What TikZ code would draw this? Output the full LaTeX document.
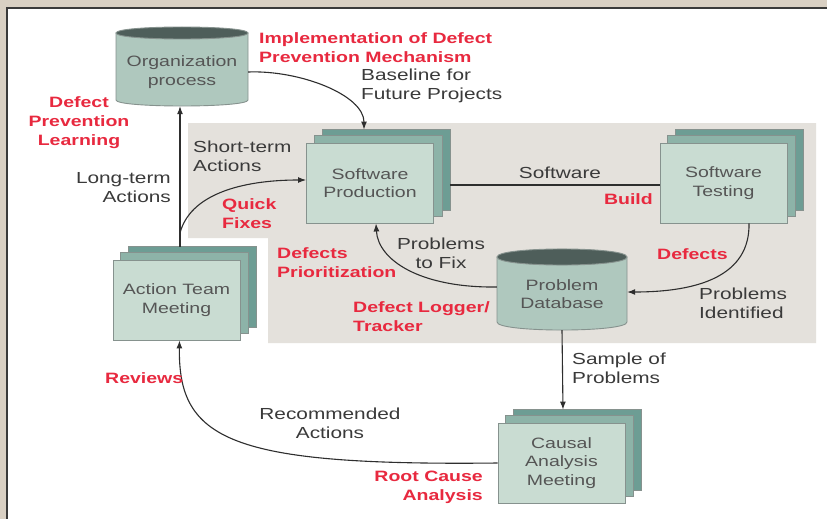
\documentclass[tikz,border=0pt]{standalone}
\usepackage{fontspec}
\setmainfont{Liberation Sans}[FakeStretch=1.3]
\usetikzlibrary{arrows.meta}

\pgfdeclarelayer{bg}
\pgfdeclarelayer{stack}
\pgfsetlayers{bg,stack,main}

\definecolor{paper}{HTML}{D9D0C3}
\definecolor{framecol}{HTML}{3A3A3A}
\definecolor{zone}{HTML}{E4E1DC}
\definecolor{boxfront}{HTML}{C9DCD2}
\definecolor{boxmid}{HTML}{8DB3A8}
\definecolor{boxback}{HTML}{6D9D94}
\definecolor{boxline}{HTML}{86928E}
\definecolor{cylbody}{HTML}{AFC8BE}
\definecolor{cyltop}{HTML}{4E5E5A}
\definecolor{boxtext}{HTML}{555555}
\definecolor{labeltext}{HTML}{3A3A3A}
\definecolor{hired}{HTML}{E8293F}
\definecolor{linecol}{HTML}{2E2E2E}

\newcommand\boxfont{\fontsize{15}{18.5}\selectfont}
\newcommand\lblfont{\fontsize{16}{19}\selectfont}
\newcommand\hifont{\fontsize{15}{19}\selectfont\bfseries}

\tikzset{
  stackbox/.style={draw=boxline, fill=boxfront, line width=0.9pt,
    minimum width=127pt, minimum height=80pt, inner sep=0pt,
    align=center, text=boxtext, font=\boxfont},
  cylnode/.style={inner sep=0pt, align=center, text=boxtext, font=\boxfont},
  layermid/.style={draw=boxline, fill=boxmid, line width=0.9pt},
  layerback/.style={draw=boxline, fill=boxback, line width=0.9pt},
  cylshape/.style={draw=boxline, fill=cylbody, line width=0.9pt},
  cylcap/.style={draw=boxline, fill=cyltop, line width=0.9pt},
  lbl/.style={inner sep=0pt, text=labeltext, font=\lblfont},
  hilite/.style={inner sep=0pt, text=hired, font=\hifont},
  conn/.style={draw=linecol, line width=1.1pt},
  arr/.style={conn, -{Latex[length=8pt,width=6pt]}},
}

% two shaded sheets behind a stacked box
\newcommand\sheets[1]{%
  \draw[layerback] ([shift={(16,-13)}]#1.south west) rectangle ([shift={(16,-13)}]#1.north east);
  \draw[layermid] ([shift={(8,-7)}]#1.south west) rectangle ([shift={(8,-7)}]#1.north east);}

\begin{document}
\begin{tikzpicture}[x=1pt,y=-1pt]
\useasboundingbox (0,0) rectangle (827,519);

% page, frame and the shaded production zone
\begin{pgfonlayer}{bg}
  \fill[paper] (0,0) rectangle (827,519);
  \draw[fill=white, draw=framecol, line width=1.5pt] (7,8) rectangle (860,560);
  \fill[zone] (188,123) -- (816,123) -- (816,343) -- (268,343) -- (268,238) -- (188,238) -- cycle;
\end{pgfonlayer}

% stacked boxes
\node[stackbox] (sp) at (370,183) {Software\\Production};
\node[stackbox] (st) at (723.5,183) {Software\\Testing};
\node[stackbox] (at) at (176.5,300) {Action Team\\Meeting};
\node[stackbox] (ca) at (561.5,463) {Causal\\Analysis\\Meeting};

% cylinders
\node[cylnode, minimum width=132pt, minimum height=68pt] (org) at (182,72) {Organization\\process};
\node[cylnode, minimum width=130pt, minimum height=72pt] (pd) at (562,294) {Problem\\Database};

\begin{pgfonlayer}{stack}
  \sheets{sp}
  \sheets{st}
  \sheets{at}
  \sheets{ca}
  % organization process store
  \path[cylshape] (116,33) -- (116,100) .. controls (116,108) and (248,108) .. (248,100) -- (248,33) -- cycle;
  \path[cylcap] (116,33) .. controls (116,25) and (248,25) .. (248,33) .. controls (248,41) and (116,41) .. (116,33) -- cycle;
  % problem database store
  \path[cylshape] (497,257) -- (497,322) .. controls (497,332.7) and (627,332.7) .. (627,322) -- (627,257) -- cycle;
  \path[cylcap] (497,257) .. controls (497,246.3) and (627,246.3) .. (627,257) .. controls (627,267.7) and (497,267.7) .. (497,257) -- cycle;
\end{pgfonlayer}

% connectors
\coordinate (attop) at ([shift={(3.5,-13)}]at.north);
\coordinate (qf) at (180,233);
\draw[arr] (org.east) .. controls (300,70) and (364,95) .. ([shift={(-6,-13)}]sp.north);
\draw[arr] (attop) -- (attop |- org.south);
\draw[arr] (qf) .. controls (190,195) and (240,180) .. ([yshift=3pt]sp.west);
\draw[conn] ([xshift=16pt,yshift=-2pt]sp.east) -- ([yshift=-2pt]st.west);
\draw[arr] ([xshift=25.5pt]st.south) .. controls (750,275) and (700,292) .. ([yshift=2pt]pd.east);
\draw[arr] ([yshift=7pt]pd.west) .. controls (420,288) and (378,260) .. ([xshift=6pt]sp.south);
\draw[arr] (pd.south) -- ([shift={(1.5,-13)}]ca.north);
\draw[arr] ([yshift=0pt]ca.west) .. controls (230,466) and (178,440) .. ([xshift=3pt]at.south);

% labels
\node[hilite, anchor=west, align=left] (impl) at (259,47.5) {Implementation of Defect\\Prevention Mechanism};
\node[lbl, anchor=west, align=left] (base) at (361,86) {Baseline for\\Future Projects};
\node[hilite, align=center] (dpl) at (79,123) {Defect\\Prevention\\Learning};
\node[lbl, anchor=east, align=right] (lta) at (171,188) {Long-term\\Actions};
\node[lbl, anchor=west, align=left] (sta) at (193,156) {Short-term\\Actions};
\node[hilite, anchor=west, align=left] (qfx) at (222,214) {Quick\\Fixes};
\node[hilite, anchor=west, align=left] (dpr) at (277,263) {Defects\\Prioritization};
\node[lbl, align=center] (ptf) at (441,253) {Problems\\to Fix};
\node[hilite, anchor=west, align=left] (dlt) at (353,317) {Defect Logger/\\Tracker};
\node[lbl] (swl) at (560,173) {Software};
\node[hilite, anchor=east] (bld) at (653,199) {Build};
\node[hilite, anchor=west] (dfc) at (657,254) {Defects};
\node[lbl, anchor=west, align=left] (pid) at (699,303) {Problems\\Identified};
\node[lbl, anchor=west, align=left] (sop) at (572,368) {Sample of\\Problems};
\node[hilite, anchor=west] (rev) at (105,378) {Reviews};
\node[lbl, align=center] (rec) at (330,423) {Recommended\\Actions};
\node[hilite, anchor=east, align=right] (rca) at (483,487) {Root Cause\\Analysis};
\end{tikzpicture}
\end{document}
